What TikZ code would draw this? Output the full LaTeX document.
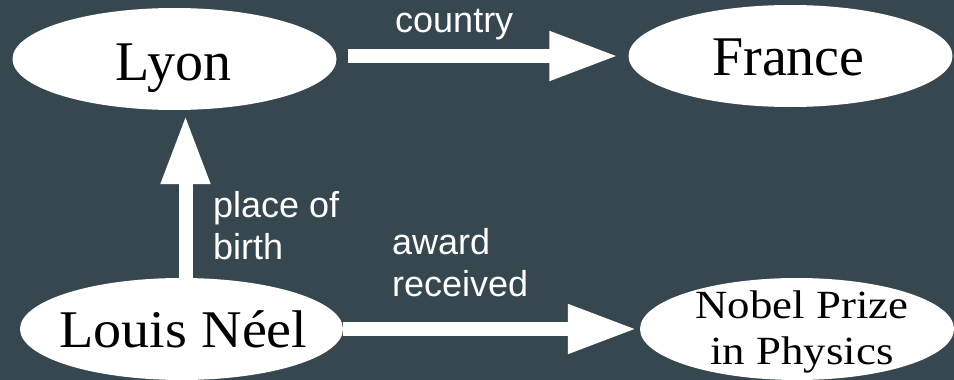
\documentclass[tikz,border=0pt]{standalone}
\usepackage{fontspec}
\setmainfont{Liberation Serif}
\newfontfamily\lblfont{Liberation Sans}
\newfontfamily\nobelfont[FakeStretch=1.12]{Liberation Serif}
\newfontfamily\louisfont[FakeStretch=1.06]{Liberation Serif}
\usetikzlibrary{shapes.geometric,arrows.meta}
\definecolor{bgslate}{RGB}{55,71,79}
\begin{document}
\begin{tikzpicture}[x=1pt,y=-1pt,
  ell/.style={ellipse, fill=white, draw=none, inner sep=0pt, minimum width=324pt, minimum height=102pt},
  etext/.style={text=black, inner sep=0pt, text height=0pt, text depth=0pt},
  bigarrow/.style={draw=white, line width=14pt, -{Triangle[length=69pt,width=46pt]}},
  elabel/.style={text=white, font=\lblfont\fontsize{36}{42}\selectfont, anchor=base west, inner sep=0pt}]
\fill[bgslate] (0,0) rectangle (954,380);
\useasboundingbox (0,0) rectangle (954,380);

\node[ell, label={[etext, font=\fontsize{56}{60}\selectfont, xshift=-1pt, yshift=-21pt]center:Lyon}] (Lyon) at (174.5,59) {};
\node[ell, label={[etext, font=\fontsize{56}{60}\selectfont, xshift=-2pt, yshift=-19pt]center:France}] (France) at (790.5,56) {};
\node[ell, minimum width=323pt, label={[etext, font=\louisfont\fontsize{53}{60}\selectfont, xshift=2pt, yshift=-18pt]center:Louis Néel}] (Louis) at (181.5,329) {};
\node[ell, minimum width=314pt, label={[etext, font=\nobelfont\fontsize{40}{46}\selectfont, xshift=5pt, yshift=11pt]center:{\begin{tabular}[t]{@{}c@{}}Nobel Prize\\in Physics\end{tabular}}}] (Nobel) at (797,329) {};

\draw[bigarrow, shorten <=11pt, shorten >=10pt] (Lyon.east |- France.west) -- (France.west);
\draw[bigarrow, shorten >=5pt] ([xshift=4pt]Louis.north) -- ([xshift=4pt]Louis.north |- Lyon.south);
\draw[bigarrow, shorten >=3pt] (Louis.east) -- (Nobel.west);

\node[elabel] (lcountry) at (395,32) {country};
\node[elabel] (lbirth) at (213,217) {\begin{tabular}[t]{@{}l@{}}place of\\birth\end{tabular}};
\node[elabel] (laward) at (392,254) {\begin{tabular}[t]{@{}l@{}}award\\received\end{tabular}};
\end{tikzpicture}
\end{document}
